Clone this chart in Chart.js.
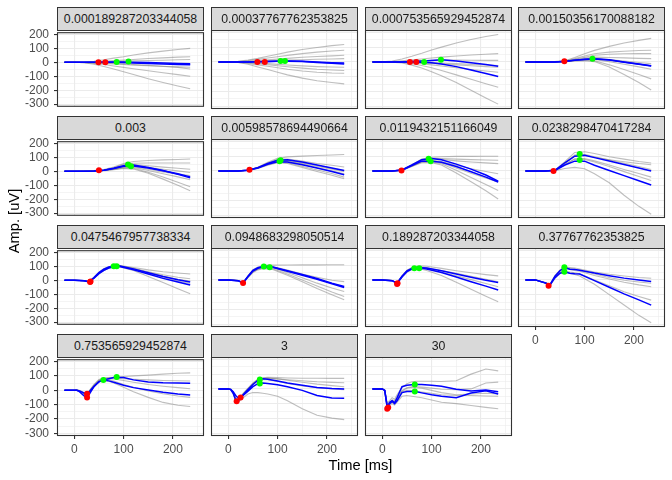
<!DOCTYPE html>
<html>
<head>
<meta charset="utf-8">
<script src="https://cdn.jsdelivr.net/npm/chart.js@4.4.0/dist/chart.umd.min.js"></script>
<style>
  body { margin: 0; background: #fff; }
  #wrap { position: relative; width: 672px; height: 480px; overflow: hidden; font-family: "Liberation Sans", Arial, sans-serif; }
  #wrap canvas { position: absolute; z-index: 1; }
  .strip { position: absolute; box-sizing: border-box; background: #D9D9D9; border: 1px solid #333; color: #1A1A1A;
           font-size: 12.3px; text-align: center; line-height: 22px; z-index: 2; white-space: nowrap; }
  .title { position: absolute; color: #000; font-size: 14.7px; line-height: 18px; text-align: center; z-index: 3; white-space: nowrap; }
</style>
</head>
<body>
<div id="wrap"></div>
<script>
// facet labels
const panelLabels = ['0.000189287203344058', '0.00037767762353825', '0.000753565929452874', '0.00150356170088182',
  '0.003', '0.00598578694490664', '0.0119432151166049', '0.0238298470417284',
  '0.0475467957738334', '0.0948683298050514', '0.189287203344058', '0.37767762353825',
  '0.753565929452874', '3', '30'];

// sample times (ms)
const tSlow = [-20, 0, 20, 40, 60, 80, 100, 120, 150, 180, 210, 235];
const tMid = [-20, 0, 20, 30, 40, 50, 60, 70, 80, 90, 120, 150, 180, 210, 235];
const tFast = [-20, 0, 5, 10, 15, 20, 25, 30, 40, 50, 60, 70, 80, 100, 120, 150, 180, 210, 235];
const panelTimes = [tSlow, tSlow, tSlow, tSlow, tSlow, tSlow, tSlow, tSlow, tMid, tMid, tMid, tMid, tFast, tFast, tFast];

// blue traces, per panel
const blueSeries = [
  [[0,0,0,0,0,0,-2,-4,-8,-12,-16,-18], [0,0,0,0,1,2,2,0,-2,-5,-8,-10]],
  [[0,0,0,0,1,3,5,6,5,0,-5,-8], [0,0,0,0,1,2,4,5,2,-4,-10,-14]],
  [[0,0,0,0,2,6,10,14,6,-6,-18,-29], [0,0,0,0,0,-2,-6,-14,-32,-55,-78,-99]],
  [[0,0,0,0,4,12,18,22,14,0,-14,-26], [0,0,0,0,3,11,17,20,12,-2,-16,-28]],
  [[0,0,0,2,8,22,40,45,28,6,-22,-47], [0,0,0,2,7,20,36,38,24,4,-18,-40]],
  [[0,0,0,4,22,50,72,76,60,40,20,3], [0,0,0,4,20,45,62,60,42,20,-4,-26]],
  [[0,0,0,6,40,76,84,76,46,12,-28,-70], [0,0,0,5,36,66,66,58,30,-6,-42,-75]],
  [[0,0,0,4,55,100,106,90,67,43,19,0], [0,0,0,3,40,66,66,38,3,-32,-67,-96]],
  [[0,0,-3,-10,20,55,80,95,102,104,82,55,28,4,-12], [0,0,-3,-12,15,48,72,88,98,100,76,46,14,-12,-34]],
  [[0,0,-5,-20,25,65,82,90,92,88,62,36,10,-22,-45], [0,0,-5,-21,22,60,78,88,88,85,58,32,4,-26,-51]],
  [[0,0,-5,-22,25,62,78,82,82,80,62,40,18,-2,-18], [0,0,-5,-23,20,56,74,80,78,74,50,20,-12,-42,-68]],
  [[0,0,-20,-32,25,62,84,72,70,66,46,28,12,0,-11], [0,0,-20,-34,15,45,55,45,42,40,-5,-50,-95,-135,-171]],
  [[0,0,0,-5,-12,-20,-25,-12,28,58,72,80,88,88,72,58,52,50,48], [0,0,0,-8,-25,-40,-50,-30,25,60,70,65,55,35,18,2,-14,-26,-34]],
  [[0,0,-5,-30,-75,-82,-62,-40,-5,30,58,68,66,53,40,25,10,2,0], [0,0,-3,-20,-45,-62,-60,-45,-15,15,35,40,36,28,15,-10,-45,-62,-64]],
  [[0,0,-10,-125,-90,-80,-95,-60,15,25,28,30,30,25,18,-2,-14,-8,-20], [0,0,-10,-118,-100,-85,-100,-80,-25,-18,-18,-20,-27,-40,-50,-60,-28,-12,-34]]
];

// grey traces, per panel
const greySeries = [
  [[0,0,2,8,18,30,40,52,68,80,92,100], [0,0,1,4,8,12,16,20,27,32,37,40], [0,0,0,2,4,6,8,10,13,15,18,20],
   [0,0,0,-1,-2,-3,-4,-5,-6,-7,-9,-10], [0,0,-1,-4,-8,-12,-16,-20,-25,-30,-33,-35], [0,0,-1,-3,-6,-9,-12,-16,-22,-28,-36,-48],
   [0,0,-2,-8,-16,-26,-36,-46,-60,-75,-88,-100], [0,0,-3,-14,-30,-48,-68,-88,-118,-145,-170,-190]],
  [[0,0,4,12,24,38,52,66,84,98,110,118], [0,0,3,9,17,26,35,44,56,66,74,79], [0,0,1,4,9,14,19,24,31,37,41,45],
   [0,0,1,2,4,7,9,12,15,18,20,22], [0,0,-1,-4,-8,-12,-17,-21,-27,-32,-35,-36], [0,0,-2,-6,-12,-19,-26,-33,-42,-50,-55,-58],
   [0,0,-3,-10,-20,-30,-40,-50,-62,-70,-75,-77], [0,0,-4,-16,-34,-52,-70,-88,-110,-128,-140,-149]],
  [[0,0,6,20,38,58,80,100,128,152,172,186], [0,0,2,8,14,20,26,32,40,47,52,56], [0,0,0,2,5,8,10,12,12,11,10,10],
   [0,0,0,0,-1,-3,-5,-8,-12,-17,-21,-24], [0,0,0,-1,-3,-6,-10,-14,-20,-26,-32,-36], [0,0,0,-2,-6,-12,-20,-28,-40,-52,-62,-70],
   [0,0,-1,-4,-12,-24,-40,-58,-88,-118,-148,-172], [0,0,-2,-8,-22,-42,-66,-94,-140,-192,-244,-286]],
  [[0,0,0,2,8,30,55,78,105,128,146,159], [0,0,0,2,6,22,40,55,66,72,77,79], [0,0,0,1,5,18,32,45,52,55,56,56],
   [0,0,0,1,4,15,26,32,30,27,24,22], [0,0,0,0,3,12,20,24,16,6,-4,-12], [0,0,0,0,2,10,16,16,2,-16,-34,-50],
   [0,0,0,0,2,8,12,8,-20,-52,-85,-115], [0,0,0,0,1,6,8,2,-35,-85,-140,-190]],
  [[0,0,2,6,12,30,55,70,78,82,85,88], [0,0,2,5,10,26,48,58,60,60,60,60], [0,0,1,4,8,22,40,48,40,30,22,15],
   [0,0,1,4,8,20,36,40,28,15,3,-8], [0,0,1,3,7,18,32,34,16,-4,-20,-31], [0,0,1,3,6,16,28,28,6,-18,-40,-60],
   [0,0,1,2,6,14,24,22,-6,-40,-78,-111], [0,0,0,2,5,12,20,16,-14,-56,-100,-140]],
  [[0,0,0,5,25,58,85,95,100,104,108,111], [0,0,0,5,24,54,78,80,66,50,38,26], [0,0,0,4,22,50,72,72,56,36,18,3],
   [0,0,0,4,20,46,66,64,44,20,0,-20], [0,0,0,4,18,42,60,56,32,6,-18,-42], [0,0,0,3,16,38,55,50,24,-4,-30,-53],
   [0,0,0,4,20,48,70,68,50,30,12,-5]],
  [[0,0,0,6,42,80,92,96,98,98,99,99], [0,0,0,6,40,76,86,84,80,76,74,72], [0,0,0,5,38,72,82,78,68,60,54,49],
   [0,0,0,5,36,68,74,64,38,14,-4,-19], [0,0,0,5,34,64,68,56,20,-16,-48,-77], [0,0,0,4,32,60,62,48,4,-44,-92,-133],
   [0,0,0,4,30,56,56,40,-14,-74,-134,-190]],
  [[0,0,0,5,62,125,130,118,96,80,64,54], [0,0,0,4,56,108,112,96,74,52,30,10], [0,0,0,4,52,100,104,92,76,62,50,42],
   [0,0,0,3,44,82,84,68,40,10,-18,-42], [0,0,0,3,42,78,78,60,30,-5,-38,-65], [0,0,0,2,16,24,15,-20,-80,-165,-240,-293]],
  [[0,0,-2,-8,22,58,84,98,106,108,92,75,62,52,45], [0,0,-2,-10,18,52,78,94,104,106,86,62,40,22,11],
   [0,0,-3,-11,16,50,76,92,102,104,80,50,20,-5,-23], [0,0,-3,-12,14,46,70,86,96,98,70,28,-15,-60,-96],
   [0,0,-2,-9,19,54,80,94,103,104,84,58,30,8,-6]],
  [[0,0,-4,-18,28,70,88,96,100,100,101,102,102,103,103], [0,0,-5,-20,24,64,82,90,92,90,66,40,18,-2,-12],
   [0,0,-5,-22,20,58,76,84,86,82,50,14,-22,-55,-79], [0,0,-6,-22,18,54,72,80,80,76,40,0,-42,-82,-113],
   [0,0,-6,-23,15,50,68,76,74,70,32,-12,-58,-100,-134]],
  [[0,0,-4,-20,28,66,84,92,94,92,78,62,48,36,27], [0,0,-5,-22,22,58,76,82,80,76,54,28,2,-24,-46],
   [0,0,-5,-24,18,52,70,76,72,64,30,-16,-64,-110,-148], [0,0,-4,-21,24,62,80,86,86,82,64,44,24,4,-12]],
  [[0,0,-18,-30,30,68,88,84,80,74,54,38,26,16,11], [0,0,-18,-32,26,64,82,78,72,66,40,16,-2,-14,-23],
   [0,0,-20,-34,22,58,76,70,64,58,30,6,-16,-34,-46], [0,0,-20,-35,18,50,62,54,48,42,0,-40,-80,-112,-137],
   [0,0,-22,-38,10,42,52,44,36,26,-30,-100,-170,-240,-290]],
  [[0,0,2,0,-8,-18,-20,-5,40,75,85,88,90,95,100,105,112,118,121], [0,0,2,-2,-10,-20,-22,-8,35,70,82,84,84,80,76,72,68,66,64],
   [0,0,0,-5,-15,-28,-32,-15,30,65,76,72,64,40,20,-5,-25,-40,-50], [0,0,0,-6,-18,-30,-35,-18,25,58,70,62,50,20,-10,-50,-85,-105,-114],
   [0,0,1,-4,-12,-24,-28,-12,32,68,80,80,78,68,56,40,28,18,10]],
  [[0,0,-2,-25,-65,-70,-55,-30,5,40,65,75,78,76,74,72,72,71,71], [0,0,-3,-28,-70,-78,-60,-38,0,35,60,70,72,68,62,55,48,44,42],
   [0,0,-4,-30,-72,-80,-64,-42,-4,30,56,64,62,50,36,20,8,0,-5], [0,0,-5,-35,-80,-90,-75,-60,-35,-25,-25,-30,-35,-50,-80,-135,-178,-198,-208],
   [0,0,-3,-26,-68,-74,-58,-35,2,36,62,72,74,68,58,45,32,22,15]],
  [[0,0,-10,-95,-80,-60,-70,-40,10,35,48,52,52,52,50,55,100,135,122], [0,0,-8,-110,-95,-75,-80,-55,-10,8,15,15,12,5,-2,-5,0,40,46],
   [0,0,-8,-105,-90,-80,-90,-65,-20,-10,-12,-18,-22,-30,-40,-45,-45,-48,-50], [0,0,-12,-130,-110,-100,-110,-90,-50,-45,-50,-55,-60,-75,-90,-100,-112,-125,-134],
   [0,0,-10,-120,-100,-90,-95,-70,-15,5,10,8,5,-10,-25,-40,-35,-30,-34]]
];

// marker points [time, amplitude]
const redPoints = [
  [[49, 0], [63, 0]], [[59, 0], [74, 0]], [[56, 0], [69, 0]], [[59, 5]],
  [[50, 8]], [[43, 8]], [[39, 3]], [[37, -1]],
  [[32, -12], [33, -8]], [[30, -21]], [[31, -23], [30, -28]], [[27, -39]],
  [[26, -25], [26, -50]], [[17, -84], [25, -59]], [[10, -134], [12, -126]]
];
const greenPoints = [
  [[86, 2], [110, 6]], [[106, 6], [115, 6]], [[85, 0], [119, 14]], [[116, 22]],
  [[109, 49], [115, 36]], [[106, 72], [104, 66]], [[94, 83], [98, 65]], [[90, 114], [90, 73]],
  [[80, 100], [86, 100]], [[72, 91], [84, 86]], [[65, 79], [75, 79]], [[59, 85], [59, 55]],
  [[59, 71], [86, 92]], [[64, 64], [64, 37]], [[66, 30], [66, -18]]
];

const xTickValues = [0, 50, 100, 150, 200, 250];
const yTickValues = [-300, -250, -200, -150, -100, -50, 0, 50, 100, 150, 200];

const FONT = '"Liberation Sans", Arial, sans-serif';
const colLeft = [57, 211, 365, 518];
const rowTop = [30, 139, 248, 357];
const plotW = 147, plotH = 79;

const panelBorder = {
  id: 'panelBorder',
  afterDraw(chart) {
    const a = chart.chartArea, ctx = chart.ctx;
    ctx.save();
    ctx.strokeStyle = '#333333';
    ctx.lineWidth = 1.1;
    ctx.strokeRect(a.left + 0.5, a.top + 0.5, a.width - 1, a.height - 1);
    ctx.restore();
  }
};

const wrap = document.getElementById('wrap');
const isMajor = v => v % 100 === 0;

panelLabels.forEach((label, i) => {
  const r = Math.floor(i / 4), c = i % 4;
  const hasY = c === 0;
  const hasX = r === 3 || (r === 2 && c === 3);
  const padL = hasY ? 48 : 6, padR = 6, padT = 10, padB = hasX ? 24 : 10;

  const cv = document.createElement('canvas');
  cv.width = padL + plotW + padR;
  cv.height = padT + plotH + padB;
  cv.style.left = (colLeft[c] - padL) + 'px';
  cv.style.top = (rowTop[r] - padT) + 'px';
  wrap.appendChild(cv);

  const strip = document.createElement('div');
  strip.className = 'strip';
  strip.textContent = label;
  strip.style.left = colLeft[c] + 'px';
  strip.style.top = (rowTop[r] - 23) + 'px';
  strip.style.width = plotW + 'px';
  strip.style.height = '24px';
  wrap.appendChild(strip);

  const times = panelTimes[i];
  const toXY = vals => vals.map((v, k) => ({ x: times[k], y: v }));
  const datasets = [];

  datasets.push({ data: greenPoints[i].map(p => ({ x: p[0], y: p[1] })), showLine: false,
    pointRadius: 3, pointBackgroundColor: '#00FF00', pointBorderWidth: 0 });
  datasets.push({ data: redPoints[i].map(p => ({ x: p[0], y: p[1] })), showLine: false,
    pointRadius: 3, pointBackgroundColor: '#FF0000', pointBorderWidth: 0 });
  blueSeries[i].forEach(vals => datasets.push({ data: toXY(vals), showLine: true, borderColor: '#0000FF',
    borderWidth: 1.5, pointRadius: 0 }));
  greySeries[i].forEach(vals => datasets.push({ data: toXY(vals), showLine: true, borderColor: 'rgba(125,125,125,0.5)',
    borderWidth: 1.1, pointRadius: 0 }));

  new Chart(cv.getContext('2d'), {
    type: 'scatter',
    data: { datasets },
    options: {
      responsive: false,
      animation: false,
      events: [],
      layout: { padding: { left: hasY ? 0 : padL, top: padT, right: padR, bottom: hasX ? 0 : padB } },
      plugins: { legend: { display: false }, tooltip: { enabled: false } },
      scales: {
        x: {
          type: 'linear', min: -35, max: 263,
          afterBuildTicks: s => { s.ticks = xTickValues.map(v => ({ value: v })); },
          afterFit: s => { s.height = hasX ? padB : 0; },
          border: { display: false },
          grid: {
            color: '#EBEBEB',
            lineWidth: ctx => (ctx.tick && isMajor(ctx.tick.value)) ? 1.1 : 0.55,
            drawTicks: hasX, tickLength: 3, tickWidth: 1.1,
            tickColor: ctx => (ctx.tick && isMajor(ctx.tick.value)) ? '#333333' : 'rgba(0,0,0,0)'
          },
          ticks: { display: hasX, autoSkip: false, maxRotation: 0, padding: 3, color: '#4D4D4D',
            font: { family: FONT, size: 12 }, callback: v => isMajor(v) ? String(v) : '' }
        },
        y: {
          type: 'linear', min: -319, max: 216,
          afterBuildTicks: s => { s.ticks = yTickValues.map(v => ({ value: v })); },
          afterFit: s => { s.width = hasY ? padL : 0; },
          border: { display: false },
          grid: {
            color: '#EBEBEB',
            lineWidth: ctx => (ctx.tick && isMajor(ctx.tick.value)) ? 1.1 : 0.55,
            drawTicks: hasY, tickLength: 3, tickWidth: 1.1,
            tickColor: ctx => (ctx.tick && isMajor(ctx.tick.value)) ? '#333333' : 'rgba(0,0,0,0)'
          },
          ticks: { display: hasY, autoSkip: false, padding: 5, color: '#4D4D4D',
            font: { family: FONT, size: 12 }, callback: v => isMajor(v) ? String(v) : '' }
        }
      }
    },
    plugins: [panelBorder]
  });
});

// axis titles
const xt = document.createElement('div');
xt.className = 'title';
xt.textContent = 'Time [ms]';
xt.style.left = '57px'; xt.style.width = '607px'; xt.style.top = '456px';
wrap.appendChild(xt);

const yt = document.createElement('div');
yt.className = 'title';
yt.textContent = 'Amp. [uV]';
yt.style.left = '-86px'; yt.style.width = '200px'; yt.style.top = '212px';
yt.style.transform = 'rotate(-90deg)';
wrap.appendChild(yt);
</script>
</body>
</html>
